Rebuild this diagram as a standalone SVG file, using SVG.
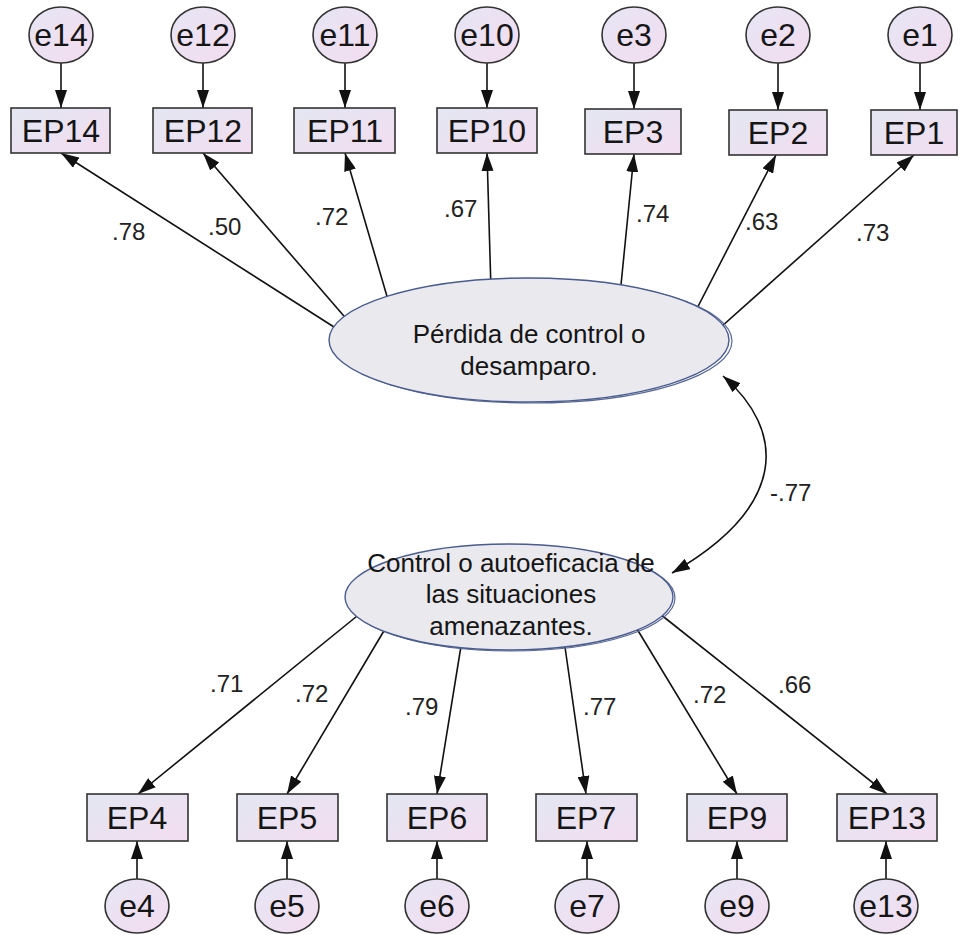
<svg xmlns="http://www.w3.org/2000/svg" width="960" height="935" viewBox="0 0 960 935">
  <defs>
    <linearGradient id="obsFill" x1="0" y1="0" x2="1" y2="1">
      <stop offset="0" stop-color="#e3e7f1"/>
      <stop offset="1" stop-color="#f3ddf1"/>
    </linearGradient>
    <linearGradient id="errFill" x1="0" y1="0" x2="1" y2="1">
      <stop offset="0" stop-color="#e6e6f4"/>
      <stop offset="1" stop-color="#f3dcf0"/>
    </linearGradient>
    <marker id="arrow" markerUnits="userSpaceOnUse" markerWidth="18" markerHeight="12" refX="18" refY="6" orient="auto">
      <path d="M0,0 L18,6 L0,12 Z" fill="#111"/>
    </marker>
    <marker id="arrowStart" markerUnits="userSpaceOnUse" markerWidth="18" markerHeight="12" refX="18" refY="6" orient="auto-start-reverse">
      <path d="M0,0 L18,6 L0,12 Z" fill="#111"/>
    </marker>
    <style>
      .conn { stroke: #111; stroke-width: 1.6; fill: none; marker-end: url(#arrow); }
      .cov { stroke: #111; stroke-width: 1.6; fill: none; marker-start: url(#arrowStart); marker-end: url(#arrow); }
      .box { fill: url(#obsFill); stroke: #333; stroke-width: 1.6; }
      .err { fill: url(#errFill); stroke: #333; stroke-width: 1.6; }
      .lat { fill: #e9e9ee; stroke: #4a5c8e; stroke-width: 1.4; }
      .lat2 { fill: none; stroke: #5a6a98; stroke-width: 1.2; }
      .obsT { font-family: "Liberation Sans", Arial, sans-serif; font-size: 32px; fill: #151515; text-anchor: middle; }
      .errT { font-family: "Liberation Sans", Arial, sans-serif; font-size: 32px; fill: #151515; text-anchor: middle; }
      .latT { font-family: "Liberation Sans", Arial, sans-serif; font-size: 26px; fill: #151515; text-anchor: middle; }
      .coef { font-family: "Liberation Sans", Arial, sans-serif; font-size: 24px; fill: #222; }
    </style>
  </defs>
  <rect width="960" height="935" fill="#ffffff"/>

  <!-- connectors: loadings, error paths, covariance -->
  <g id="connectors">
    <!-- top factor loadings -->
    <path class="conn" d="M345,334 L61,153"/>
    <path class="conn" d="M356,330 L203,153"/>
    <path class="conn" d="M391,310 L345,153"/>
    <path class="conn" d="M491,290 L487,153"/>
    <path class="conn" d="M620,295 L634,154"/>
    <path class="conn" d="M690,322 L776,155"/>
    <path class="conn" d="M712,335 L914,155"/>
    <!-- bottom factor loadings -->
    <path class="conn" d="M362,612 L138,794"/>
    <path class="conn" d="M388,624 L287,794"/>
    <path class="conn" d="M462,640 L437,794"/>
    <path class="conn" d="M564,640 L586,794"/>
    <path class="conn" d="M634,624 L737,794"/>
    <path class="conn" d="M655,610 L887,794"/>
    <!-- top error terms -->
    <path class="conn" d="M61,63 L61,108"/>
    <path class="conn" d="M203,63 L203,108"/>
    <path class="conn" d="M345,63 L345,108"/>
    <path class="conn" d="M487,63 L487,108"/>
    <path class="conn" d="M634,63 L634,109"/>
    <path class="conn" d="M778,63 L778,110"/>
    <path class="conn" d="M920,63 L920,110"/>
    <!-- bottom error terms -->
    <path class="conn" d="M137,879 L137,841"/>
    <path class="conn" d="M287,879 L287,841"/>
    <path class="conn" d="M437,879 L437,841"/>
    <path class="conn" d="M587,879 L587,841"/>
    <path class="conn" d="M737,879 L737,841"/>
    <path class="conn" d="M886,879 L886,841"/>
    <!-- covariance between factors -->
    <path class="cov" d="M723,376 C785,430 790,505 672,573"/>

    <!-- coefficients -->
    <text class="coef" x="112" y="240">.78</text>
    <text class="coef" x="208" y="235">.50</text>
    <text class="coef" x="315" y="225">.72</text>
    <text class="coef" x="444" y="217">.67</text>
    <text class="coef" x="636" y="222">.74</text>
    <text class="coef" x="745" y="230">.63</text>
    <text class="coef" x="856" y="241">.73</text>
    <text class="coef" x="210" y="692">.71</text>
    <text class="coef" x="295" y="702">.72</text>
    <text class="coef" x="405" y="715">.79</text>
    <text class="coef" x="583" y="715">.77</text>
    <text class="coef" x="693" y="703">.72</text>
    <text class="coef" x="778" y="693">.66</text>
    <text class="coef" x="770" y="501">-.77</text>
  </g>

  <!-- latent factors -->
  <g id="F1">
    <ellipse class="lat2" cx="532" cy="341" rx="200" ry="62"/>
    <ellipse class="lat" cx="529" cy="340" rx="200" ry="62"/>
    <text class="latT" x="529" y="343">Pérdida de control o</text>
    <text class="latT" x="529" y="375">desamparo.</text>
  </g>
  <g id="F2">
    <ellipse class="lat2" cx="511" cy="598" rx="164" ry="53"/>
    <ellipse class="lat" cx="509" cy="597" rx="164" ry="53"/>
    <text class="latT" x="511" y="572">Control o autoeficacia de</text>
    <text class="latT" x="511" y="603">las situaciones</text>
    <text class="latT" x="511" y="635">amenazantes.</text>
  </g>

  <!-- observed indicators, top -->
  <g id="EP14"><rect class="box" x="11" y="108" width="99" height="45"/><text class="obsT" x="61" y="142">EP14</text></g>
  <g id="EP12"><rect class="box" x="153" y="108" width="99" height="45"/><text class="obsT" x="203" y="142">EP12</text></g>
  <g id="EP11"><rect class="box" x="294" y="108" width="101" height="45"/><text class="obsT" x="345" y="142">EP11</text></g>
  <g id="EP10"><rect class="box" x="437" y="108" width="100" height="45"/><text class="obsT" x="487" y="142">EP10</text></g>
  <g id="EP3"><rect class="box" x="585" y="109" width="96" height="45"/><text class="obsT" x="633" y="143">EP3</text></g>
  <g id="EP2"><rect class="box" x="729" y="110" width="98" height="45"/><text class="obsT" x="778" y="144">EP2</text></g>
  <g id="EP1"><rect class="box" x="871" y="110" width="86" height="45"/><text class="obsT" x="914" y="144">EP1</text></g>

  <!-- observed indicators, bottom -->
  <g id="EP4"><rect class="box" x="87" y="794" width="101" height="47"/><text class="obsT" x="137" y="829">EP4</text></g>
  <g id="EP5"><rect class="box" x="237" y="794" width="101" height="47"/><text class="obsT" x="287" y="829">EP5</text></g>
  <g id="EP6"><rect class="box" x="387" y="794" width="100" height="47"/><text class="obsT" x="437" y="829">EP6</text></g>
  <g id="EP7"><rect class="box" x="536" y="794" width="101" height="47"/><text class="obsT" x="586" y="829">EP7</text></g>
  <g id="EP9"><rect class="box" x="687" y="794" width="100" height="47"/><text class="obsT" x="737" y="829">EP9</text></g>
  <g id="EP13"><rect class="box" x="837" y="794" width="100" height="47"/><text class="obsT" x="887" y="829">EP13</text></g>

  <!-- error terms, top -->
  <g id="e14"><ellipse class="err" cx="61" cy="35" rx="32" ry="28"/><text class="errT" x="61" y="46">e14</text></g>
  <g id="e12"><ellipse class="err" cx="203" cy="35" rx="32" ry="28"/><text class="errT" x="203" y="46">e12</text></g>
  <g id="e11"><ellipse class="err" cx="345" cy="35" rx="32" ry="28"/><text class="errT" x="345" y="46">e11</text></g>
  <g id="e10"><ellipse class="err" cx="487" cy="35" rx="32" ry="28"/><text class="errT" x="487" y="46">e10</text></g>
  <g id="e3"><ellipse class="err" cx="634" cy="35" rx="32" ry="28"/><text class="errT" x="634" y="46">e3</text></g>
  <g id="e2"><ellipse class="err" cx="778" cy="35" rx="32" ry="28"/><text class="errT" x="778" y="46">e2</text></g>
  <g id="e1"><ellipse class="err" cx="920" cy="35" rx="32" ry="28"/><text class="errT" x="920" y="46">e1</text></g>

  <!-- error terms, bottom -->
  <g id="e4"><ellipse class="err" cx="137" cy="906" rx="32" ry="27"/><text class="errT" x="137" y="917">e4</text></g>
  <g id="e5"><ellipse class="err" cx="287" cy="906" rx="32" ry="27"/><text class="errT" x="287" y="917">e5</text></g>
  <g id="e6"><ellipse class="err" cx="437" cy="906" rx="32" ry="27"/><text class="errT" x="437" y="917">e6</text></g>
  <g id="e7"><ellipse class="err" cx="587" cy="906" rx="32" ry="27"/><text class="errT" x="587" y="917">e7</text></g>
  <g id="e9"><ellipse class="err" cx="737" cy="906" rx="32" ry="27"/><text class="errT" x="737" y="917">e9</text></g>
  <g id="e13"><ellipse class="err" cx="886" cy="906" rx="32" ry="27"/><text class="errT" x="886" y="917">e13</text></g>
</svg>
